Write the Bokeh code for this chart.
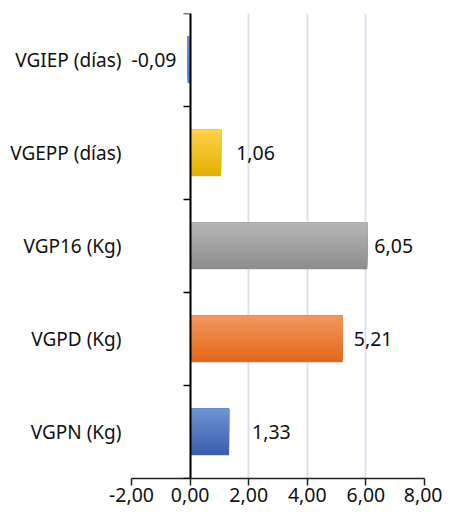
from bokeh.plotting import figure
from bokeh.models import Range1d, FixedTicker, LinearAxis, ColumnDataSource
from bokeh.embed import file_html
from bokeh.resources import INLINE
from bokeh.core.properties import value

# ---- data ----
categories = ["VGPN (Kg)", "VGPD (Kg)", "VGP16 (Kg)", "VGEPP (días)", "VGIEP (días)"]
values = [1.33, 5.21, 6.05, 1.06, -0.09]
value_labels = ["1,33", "5,21", "6,05", "1,06", "-0,09"]
x_ticks = [-2, 0, 2, 4, 6, 8]
x_tick_labels = ["-2,00", "0,00", "2,00", "4,00", "6,00", "8,00"]

# ---- styles ----
top_colors = ["#6f92d2", "#f2955e", "#b4b4b4", "#ffd04a", "#5f9ad8"]
bottom_colors = ["#3a5fae", "#e5681a", "#8e8e8e", "#e3b100", "#4a86cf"]
label_offsets = [23, 11, 7, 15, -11]
FONT = "Noto Sans"
FS_CAT = "19px"
FS_NUM = "19.5px"

def hex2rgb(h):
    h = h.lstrip("#")
    return tuple(int(h[i:i + 2], 16) for i in (0, 2, 4))

def mix(c0, c1, t):
    a, b = hex2rgb(c0), hex2rgb(c1)
    return "#%02x%02x%02x" % tuple(int(round(a[i] + (b[i] - a[i]) * t)) for i in range(3))

p = figure(width=442, height=507, output_backend="svg", toolbar_location=None,
           x_range=Range1d(-2, 8), y_range=Range1d(0, len(categories)),
           min_border_left=131, min_border_right=18, min_border_top=13, min_border_bottom=29)
p.outline_line_color = None
p.background_fill_color = "white"
p.border_fill_color = "white"

# grid
p.xgrid.ticker = FixedTicker(ticks=x_ticks)
p.xgrid.grid_line_color = "#dce1ea"
p.xgrid.grid_line_width = 2
p.ygrid.grid_line_color = None

# x axis
xa = p.xaxis[0]
xa.ticker = FixedTicker(ticks=x_ticks)
xa.major_label_overrides = {t: l for t, l in zip(x_ticks, x_tick_labels)}
xa.major_tick_out = 7
xa.major_tick_in = 0
xa.minor_tick_line_color = None
xa.axis_line_color = "#222222"
xa.axis_line_width = 1.5
xa.major_tick_line_color = "#222222"
xa.major_tick_line_width = 1.5
xa.major_label_standoff = 2
xa.major_label_text_font = FONT
xa.major_label_text_font_size = FS_NUM
xa.major_label_text_color = "#111111"

# y axis: category labels only
ys = [i + 0.5 for i in range(len(categories))]
ya = p.yaxis[0]
ya.ticker = FixedTicker(ticks=ys)
ya.major_label_overrides = {y: c for y, c in zip(ys, categories)}
ya.axis_line_color = None
ya.major_tick_line_color = None
ya.minor_tick_line_color = None
ya.major_tick_out = 0
ya.major_tick_in = 0
ya.major_label_standoff = 10
ya.major_label_text_font = FONT
ya.major_label_text_font_size = FS_CAT
ya.major_label_text_color = "#111111"

# bars as vertical gradient (layered, no seams)
bar_h = 0.5
n = 16
for i, v in enumerate(values):
    yc = i + 0.5
    y_top = yc + bar_h / 2
    for k in range(n):
        y_bot = yc - bar_h / 2 + k * bar_h / n
        t = k / (n - 1)
        col = mix(bottom_colors[i], top_colors[i], t)
        p.hbar(y=[(y_bot + y_top) / 2], left=[0], right=[v], height=y_top - y_bot,
               fill_color=col, line_color=None)

# zero axis (vertical line with ticks at category boundaries)
za = LinearAxis(fixed_location=0, ticker=FixedTicker(ticks=list(range(len(categories) + 1))))
za.major_tick_in = 7
za.major_tick_out = 0
za.minor_tick_line_color = None
za.major_label_text_font_size = "0px"
za.major_label_text_alpha = 0
za.major_label_standoff = 0
za.axis_line_color = "#000000"
za.axis_line_width = 2
za.major_tick_line_color = "#000000"
za.major_tick_line_width = 1.5
p.add_layout(za, "right")

# value labels
pos_idx = [i for i, v in enumerate(values) if v >= 0]
neg_idx = [i for i, v in enumerate(values) if v < 0]
for idx, align in ((pos_idx, "left"), (neg_idx, "right")):
    src = ColumnDataSource(dict(x=[values[i] for i in idx], y=[ys[i] for i in idx],
                                t=[value_labels[i] for i in idx],
                                o=[label_offsets[i] for i in idx]))
    p.text(x="x", y="y", text="t", x_offset="o", source=src, text_align=align,
           text_baseline="middle", text_font=value(FONT), text_font_size=FS_NUM,
           text_color="#111111")

open("out.html", "w").write(file_html(p, INLINE))
